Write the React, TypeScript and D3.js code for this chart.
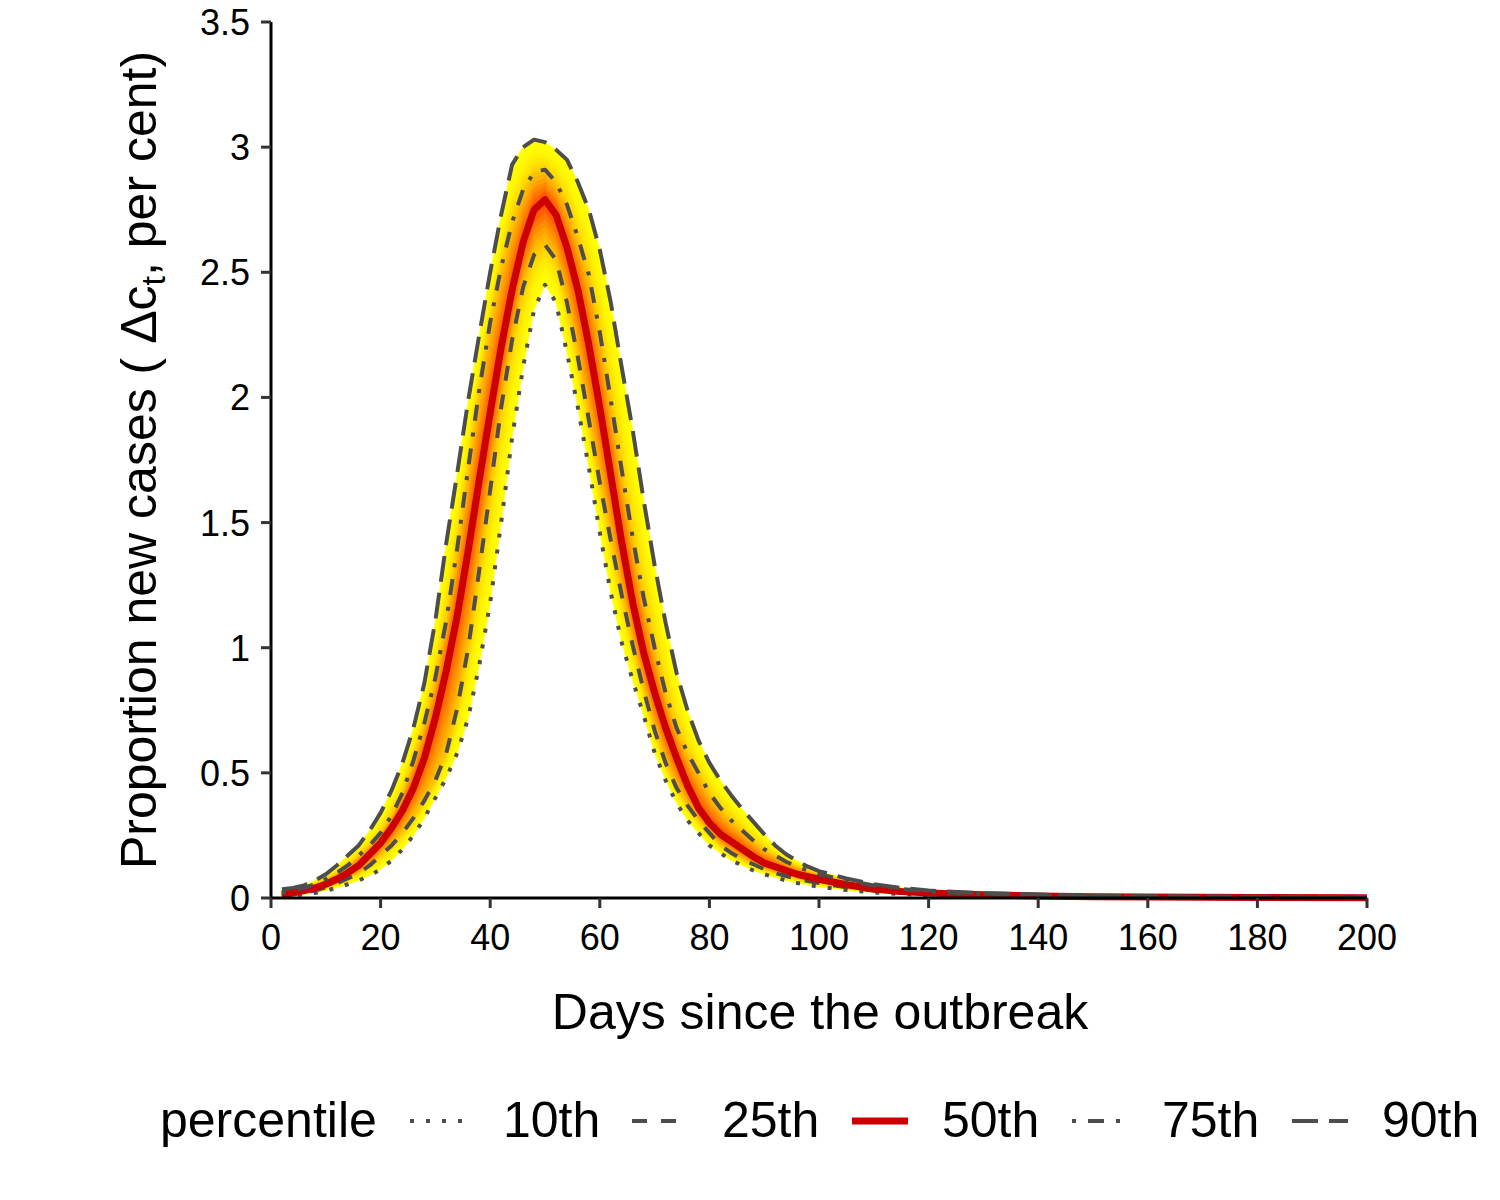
import * as React from 'react'
import * as d3 from 'd3'

const days = [
  2, 4, 6, 8, 10, 12, 14, 16, 18, 20, 22, 24, 26, 28, 30, 32, 34, 36, 38, 40,
  42, 44, 46, 48, 50, 52, 54, 56, 58, 60, 62, 64, 66, 68, 70, 72, 74, 76, 78, 80,
  82, 84, 86, 88, 90, 92, 94, 96, 98, 100, 105, 110, 115, 120, 130, 140, 150, 160, 180, 200,
]

const p10 = [
  0.005, 0.01, 0.015, 0.02, 0.03, 0.04, 0.055, 0.07, 0.09, 0.115, 0.15, 0.195, 0.25, 0.32, 0.4, 0.48, 0.58, 0.72, 0.93, 1.18,
  1.5, 1.84, 2.12, 2.35, 2.45, 2.38, 2.18, 1.96, 1.72, 1.46, 1.22, 1.02, 0.87, 0.73, 0.58, 0.47, 0.38, 0.31, 0.26, 0.21,
  0.18, 0.15, 0.13, 0.11, 0.095, 0.082, 0.07, 0.06, 0.052, 0.045, 0.032, 0.022, 0.016, 0.011, 0.006, 0.003, 0.002, 0.001, 0.0008, 0.0005,
]

const p25 = [
  0.01, 0.015, 0.022, 0.03, 0.042, 0.058, 0.078, 0.1, 0.13, 0.17, 0.21, 0.26, 0.32, 0.39, 0.47, 0.58, 0.76, 1.0, 1.31, 1.63,
  1.96, 2.23, 2.44, 2.57, 2.61, 2.55, 2.38, 2.16, 1.91, 1.66, 1.43, 1.21, 1.01, 0.83, 0.67, 0.54, 0.44, 0.37, 0.31, 0.26,
  0.21, 0.18, 0.155, 0.135, 0.115, 0.1, 0.088, 0.077, 0.068, 0.06, 0.043, 0.03, 0.021, 0.015, 0.009, 0.005, 0.003, 0.002, 0.001, 0.001,
]

const p50 = [
  0.015, 0.02, 0.03, 0.04, 0.055, 0.075, 0.1, 0.13, 0.175, 0.22, 0.28, 0.35, 0.44, 0.56, 0.72, 0.91, 1.13, 1.39, 1.67, 1.94,
  2.2, 2.43, 2.62, 2.75, 2.79, 2.73, 2.6, 2.43, 2.21, 1.96, 1.69, 1.42, 1.18, 0.98, 0.82, 0.68, 0.56, 0.45, 0.36, 0.3,
  0.255, 0.225, 0.195, 0.165, 0.14, 0.125, 0.11, 0.095, 0.085, 0.075, 0.053, 0.036, 0.026, 0.02, 0.013, 0.008, 0.005, 0.004, 0.002, 0.001,
]

const p75 = [
  0.02, 0.03, 0.04, 0.055, 0.075, 0.1, 0.13, 0.17, 0.21, 0.26, 0.33, 0.42, 0.55, 0.7, 0.88, 1.11, 1.4, 1.72, 2.03, 2.3,
  2.52, 2.7, 2.83, 2.9, 2.91, 2.86, 2.77, 2.64, 2.49, 2.26, 1.99, 1.71, 1.44, 1.2, 1.0, 0.82, 0.68, 0.58, 0.5, 0.42,
  0.36, 0.31, 0.27, 0.23, 0.195, 0.17, 0.145, 0.125, 0.11, 0.095, 0.07, 0.05, 0.036, 0.026, 0.015, 0.01, 0.006, 0.005, 0.003, 0.002,
]

const p90 = [
  0.035, 0.04, 0.05, 0.07, 0.095, 0.13, 0.17, 0.21, 0.27, 0.34, 0.43, 0.54, 0.68, 0.86, 1.11, 1.42, 1.7, 1.99, 2.25, 2.5,
  2.73, 2.93, 3.0, 3.03, 3.02, 2.99, 2.95, 2.86, 2.75, 2.59, 2.38, 2.12, 1.87, 1.59, 1.33, 1.1, 0.9, 0.75, 0.63, 0.54,
  0.47, 0.41, 0.355, 0.305, 0.255, 0.21, 0.175, 0.148, 0.125, 0.107, 0.078, 0.055, 0.04, 0.03, 0.019, 0.014, 0.009, 0.007, 0.005, 0.004,
]

const xTicks = [0, 20, 40, 60, 80, 100, 120, 140, 160, 180, 200]
const yTicks = [0, 0.5, 1, 1.5, 2, 2.5, 3, 3.5]
const yTickLabels = ['0', '0.5', '1', '1.5', '2', '2.5', '3', '3.5']

const legendLabels = ['10th', '25th', '50th', '75th', '90th']

const grey = '#4d4d4d'
const font = 'Liberation Sans, Arial, sans-serif'

// line styles, R lty scaled by line width
const styles = [
  { data: p10, stroke: grey, width: 4, dash: '4 12' },
  { data: p25, stroke: grey, width: 4, dash: '15 14' },
  { data: p50, stroke: '#cc0000', width: 7, dash: '' },
  { data: p75, stroke: grey, width: 4, dash: '4 12 16 12' },
  { data: p90, stroke: grey, width: 4, dash: '26 11' },
]

export default function App() {
  const x = d3.scaleLinear().domain([0, 200]).range([271, 1367])
  const y = d3.scaleLinear().domain([0, 3.5]).range([898, 22])

  const line = (vals: number[]) =>
    d3.line<number>().x((_, i) => x(days[i])).y((v) => y(v))(vals) || ''

  // fan: nested bands from outer percentiles to the median
  const steps = 14
  const bands: { d: string; fill: string }[] = []
  for (let k = 0; k < steps; k++) {
    const t = k / steps
    const lo = days.map((_, i) =>
      t < 0.5
        ? d3.interpolateNumber(p10[i], p25[i])(t * 2)
        : d3.interpolateNumber(p25[i], p50[i])((t - 0.5) * 2)
    )
    const hi = days.map((_, i) =>
      t < 0.5
        ? d3.interpolateNumber(p90[i], p75[i])(t * 2)
        : d3.interpolateNumber(p75[i], p50[i])((t - 0.5) * 2)
    )
    const area = d3.area<number>()
      .x((i) => x(days[i]))
      .y0((i) => y(lo[i]))
      .y1((i) => y(hi[i]))
    bands.push({
      d: area(d3.range(days.length)) || '',
      fill: d3.interpolateRgb('#ffff00', '#ff2a00')(Math.pow(t, 1.8)),
    })
  }

  const legendX = [410, 632, 852, 1072, 1292]
  const legendTextX = [503, 722, 942, 1162, 1382]

  return (
    <svg width={1500} height={1200} style={{ position: 'absolute', left: 0, top: 0 }} fontFamily={font}>
      <rect width={1500} height={1200} fill="#fff" />
      {bands.map((b, i) => (
        <path key={i} d={b.d} fill={b.fill} stroke={b.fill} strokeWidth={0.5} />
      ))}
      {styles.map((s, i) => (
        <path key={i} d={line(s.data)} fill="none" stroke={s.stroke} strokeWidth={s.width}
          strokeDasharray={s.dash} strokeLinejoin="round" />
      ))}

      {/* axes */}
      <line x1={271} x2={271} y1={y(3.5)} y2={y(0) + 1} stroke="#000" strokeWidth={3} />
      <line x1={270} x2={x(200)} y1={y(0)} y2={y(0)} stroke="#000" strokeWidth={3} />
      {yTicks.map((t, i) => (
        <g key={t}>
          <line x1={261} x2={271} y1={y(t)} y2={y(t)} stroke="#333" strokeWidth={3} />
          <text x={250} y={y(t)} dy="0.36em" textAnchor="end" fontSize={36} fill="#000">{yTickLabels[i]}</text>
        </g>
      ))}
      {xTicks.map((t) => (
        <g key={t}>
          <line x1={x(t)} x2={x(t)} y1={y(0)} y2={y(0) + 10} stroke="#333" strokeWidth={3} />
          <text x={x(t)} y={950} textAnchor="middle" fontSize={36} fill="#000">{t}</text>
        </g>
      ))}

      <text x={820} y={1029} textAnchor="middle" fontSize={50} fill="#000">Days since the outbreak</text>
      <text transform="translate(156,460) rotate(-90)" textAnchor="middle" fontSize={50} fill="#000">
        Proportion new cases ( Δc<tspan fontSize={34} dy={9}>t</tspan><tspan dy={-9}>, per cent)</tspan>
      </text>

      {/* legend */}
      <text x={160} y={1137} fontSize={50} fill="#000">percentile</text>
      {styles.map((s, i) => (
        <g key={i}>
          <line x1={legendX[i]} x2={legendX[i] + 56} y1={1121} y2={1121} stroke={s.stroke}
            strokeWidth={s.width} strokeDasharray={s.dash} />
          <text x={legendTextX[i]} y={1137} fontSize={50} fill="#000">{legendLabels[i]}</text>
        </g>
      ))}
    </svg>
  )
}
